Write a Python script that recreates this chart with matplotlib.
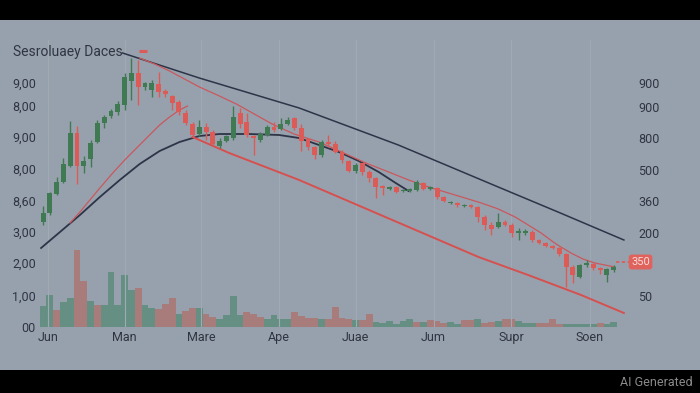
import matplotlib
matplotlib.use('Agg')
import matplotlib.pyplot as plt
from matplotlib.patches import Rectangle
from matplotlib.transforms import blended_transform_factory

plt.rcParams['font.family'] = ['Roboto', 'DejaVu Sans']

# ---------------- data ----------------
opens = [105, 114, 133, 145, 161, 194, 161, 168, 185, 204, 211, 215, 222, 246, 254, 240, 237, 243, 236, 231,
         225, 214, 203, 193, 200, 195, 181, 186, 189, 214, 205, 191, 187, 192, 200, 198, 203, 209, 199, 188,
         180, 172, 185, 183, 175, 166, 156, 164, 155, 149, 141, 138, 140, 136, 136, 137, 144, 138, 139, 130,
         124, 124, 121, 122, 120, 110, 102, 100, 105, 102, 94, 94, 95, 87, 84, 81, 79, 73, 60, 50,
         62, 63, 59, 52, 57]
highs = [121, 135, 150, 169, 206, 201, 171, 187, 207, 212, 218, 226, 254, 269, 267, 245, 247, 255, 238, 232,
         227, 217, 205, 207, 204, 197, 189, 192, 221, 219, 214, 192, 195, 202, 205, 209, 210, 210, 203, 189,
         181, 187, 192, 186, 177, 167, 164, 164, 157, 150, 142, 141, 141, 138, 139, 147, 145, 141, 140, 131,
         126, 125, 123, 123, 121, 112, 105, 114, 107, 104, 99, 98, 97, 88, 85, 82, 80, 74, 62, 63,
         67, 64, 60, 59, 62]
lows = [102, 112, 132, 144, 160, 143, 154, 160, 184, 199, 209, 212, 217, 227, 222, 237, 230, 230, 230, 217,
        212, 202, 190, 191, 187, 182, 179, 185, 187, 199, 190, 172, 185, 191, 195, 197, 202, 197, 176, 177,
        168, 170, 180, 174, 164, 155, 154, 152, 145, 129, 132, 137, 134, 135, 135, 136, 137, 137, 128, 125,
        123, 120, 120, 119, 105, 97, 92, 99, 101, 90, 87, 92, 85, 83, 80, 78, 71, 40, 44, 49,
        60, 57, 53, 45, 55]
closes = [114, 134, 145, 163, 194, 161, 166, 184, 204, 210, 216, 223, 250, 254, 240, 244, 244, 235, 233, 224,
          215, 204, 192, 200, 195, 183, 186, 191, 210, 203, 192, 189, 193, 200, 197, 203, 207, 199, 186, 180,
          172, 185, 183, 175, 167, 156, 162, 155, 149, 140, 139, 140, 135, 137, 138, 145, 138, 140, 130, 126,
          125, 122, 122, 120, 110, 102, 98, 105, 102, 94, 96, 96, 87, 84, 81, 79, 73, 60, 52, 62,
          64, 59, 57, 58, 60]
volumes = [21, 32, 17, 25, 29, 77, 46, 26, 22, 22, 55, 22, 52, 37, 39, 22, 19, 18, 23, 29,
           13, 16, 19, 19, 13, 10, 8, 12, 31, 12, 15, 13, 10, 8, 12, 8, 8, 15, 11, 9,
           9, 8, 8, 20, 9, 8, 7, 7, 13, 5, 4, 6, 3, 6, 8, 5, 5, 7, 6, 4,
           5, 3, 7, 7, 8, 4, 5, 6, 8, 8, 6, 4, 4, 4, 4, 8, 3, 3, 3, 3,
           3, 3, 4, 3, 5]
vol_up = [1, 1, 0, 1, 1, 0, 0, 1, 0, 1, 1, 1, 1, 1, 0, 1, 1, 0, 0, 0,
          1, 0, 0, 1, 0, 0, 1, 1, 1, 1, 0, 0, 0, 1, 1, 1, 1, 0, 0, 0,
          0, 1, 0, 0, 0, 0, 1, 0, 0, 1, 1, 1, 1, 1, 1, 0, 1, 0, 0, 0,
          1, 1, 0, 0, 1, 0, 0, 1, 0, 0, 1, 1, 1, 0, 0, 0, 0, 1, 1, 1,
          1, 1, 0, 1, 1]

months = ['Jun', 'Man', 'Mare', 'Ape', 'Juae', 'Jum', 'Supr', 'Soen']
month_pos = [0.8, 12.0, 23.3, 34.7, 46.0, 57.5, 68.9, 80.5]
left_ticks = [244, 221, 190, 158, 126, 95, 64, 31, 0]
left_labels = ['9,00', '8,00', '9,00', '8,00', '8,60', '3,00', '2,00', '1,00', '00']
right_ticks = [244, 220, 189, 157, 126, 94, 31]
right_labels = ['900', '900', '800', '500', '360', '200', '50']
last_value = 64
last_label = '350'

trend_x = [11.7, 23.0, 37.7, 52.3, 67.0, 75.8, 85.5]
trend_y = [274, 249, 219, 182, 140, 115, 87]
slow_x = [-0.29, 2.49, 5.43, 8.36, 11.29, 14.22, 17.16, 20.09, 23.02, 25.95, 30.35, 34.75, 37.68,
          40.62, 43.55, 46.48, 49.41, 51.91, 53.81]
slow_y = [79, 95, 112, 130, 147, 163, 176, 185, 191, 193, 193, 192, 189, 182, 175, 166, 155, 144, 136]
upper_x = [14.22, 16.42, 18.62, 20.82, 23.02, 25.95, 28.45, 31.09, 33.72, 36.95, 40.62, 44.28, 47.51,
           50.88, 53.81, 56.74, 59.68, 64.52, 67.01, 69.50, 71.41, 73.31, 75.51, 77.71, 79.47, 81.23, 84.16]
upper_y = [269, 263, 256, 248, 240, 231, 223, 213, 203, 193, 185, 174, 164, 155, 147, 140, 134, 124,
           118, 110, 102, 94, 83, 74, 68, 64, 60]
rise_x = [3.96, 5.43, 6.89, 8.36, 10.26, 12.02, 14.22, 15.69, 17.16, 18.62, 20.09, 21.26]
rise_y = [104, 115, 127, 139, 154, 167, 182, 192, 202, 210, 217, 221]
low_x = [22.0, 27.4, 37.7, 64.1, 71.4, 79.2, 85.5]
low_y = [190, 174, 147, 70, 52, 32, 14]
marker_x = [14.7]
marker_y = [276]

# ---------------- style ----------------
BG = '#97a1ad'
TXT = '#2f3540'
UP = '#3f7a52'
DN = '#dd5b56'
VUP = '#638f80'
VDN = '#a97a78'
NAVY = '#2d3447'

W, H = 700, 393
fig = plt.figure(figsize=(W / 100, H / 100), dpi=100, facecolor='black')
fig.patches.append(Rectangle((0, 23 / H), 1, (370 - 20) / H, transform=fig.transFigure,
                             facecolor=BG, edgecolor='none', zorder=-10))

ax = fig.add_axes([40 / W, (H - 327) / H, (630 - 40) / W, (327 - 40) / H])
ax.set_facecolor('none')
ax.set_xlim(-0.45, 86.4)
ax.set_ylim(0, 287)
for s in ax.spines.values():
    s.set_visible(False)

n = len(opens)
xs = list(range(n))

# volume
ax.bar(xs, volumes, width=1.0, bottom=0,
       color=[VUP if u else VDN for u in vol_up], edgecolor='none', zorder=1, alpha=0.95)

# lines
ax.plot(trend_x, trend_y, color=NAVY, lw=1.1, zorder=2)
ax.plot(slow_x, slow_y, color=NAVY, lw=1.3, zorder=2)
ax.plot(upper_x, upper_y, color='#c9585d', lw=0.9, zorder=2)
ax.plot(rise_x, rise_y, color='#c9585d', lw=0.9, zorder=2)
ax.plot(low_x, low_y, color='#d6504f', lw=1.4, zorder=2)

# candles
bw = 0.72
for i in range(n):
    o, h, l, c = opens[i], highs[i], lows[i], closes[i]
    col = UP if c >= o else DN
    ax.vlines(i, l, h, color=col, lw=1.0, zorder=3)
    lo = min(o, c)
    hgt = max(abs(c - o), 1.2)
    ax.add_patch(Rectangle((i - bw / 2, lo), bw, hgt, facecolor=col, edgecolor='none', zorder=4))

ax.plot(marker_x, marker_y, marker='_', color=DN, ms=6, mew=2.2, ls='none', zorder=4)

# ticks
ax.set_xticks(month_pos)
ax.set_xticklabels(months)
ax.set_yticks(left_ticks)
ax.set_yticklabels(left_labels)
ax.tick_params(axis='x', length=0, pad=3, labelsize=9, colors=TXT)
ax.tick_params(axis='y', length=0, pad=3, labelsize=9, colors=TXT)
ax.grid(axis='x', color='#a0aab5', lw=0.8, zorder=0)

ax2 = ax.twinx()
ax2.set_ylim(ax.get_ylim())
ax2.set_yticks(right_ticks)
ax2.set_yticklabels(right_labels)
ax2.tick_params(axis='y', length=0, pad=6, labelsize=9, colors=TXT)
for s in ax2.spines.values():
    s.set_visible(False)

# last price label
tr = blended_transform_factory(ax.transAxes, ax.transData)
ax.plot([84.4, 86.2], [last_value + 1, last_value + 1], color=DN, lw=1.2, ls=(0, (2, 1.5)), zorder=3)
ax.text(1.002, last_value + 1, last_label, transform=tr, ha='left', va='center', fontsize=8,
        color='#f6dcda', zorder=6,
        bbox=dict(boxstyle='round,pad=0.22,rounding_size=0.25', facecolor='#e0625c', edgecolor='none'))

fig.text(13 / W, (H - 52) / H, 'Sesroluaey Daces', fontsize=10, color=TXT, ha='left', va='center')
fig.text(693 / W, (H - 382) / H, 'AI Generated', fontsize=9, color='#8a8a8a', ha='right', va='center')

fig.savefig('out.png', dpi=100, facecolor=fig.get_facecolor())
